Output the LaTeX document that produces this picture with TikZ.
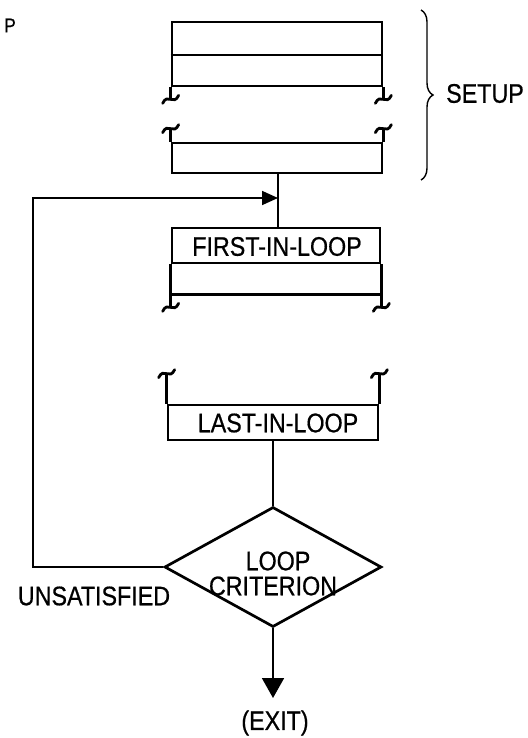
\documentclass[tikz,border=0pt]{standalone}
\usepackage{fontspec}
\usepackage{graphicx}
\setmainfont{Liberation Sans}
\newfontfamily\lblfont{Liberation Sans}[FakeBold=0.6]
\usetikzlibrary{shapes.geometric,arrows.meta,decorations.pathreplacing}
\newcommand\talltxt[1]{\scalebox{0.97}[1.12]{#1}}
\begin{document}
\begin{tikzpicture}[x=1pt,y=-1pt,
  thickline/.style={line width=2.7pt},
  conn/.style={line width=1.8pt},
  lbl/.style={font=\lblfont\fontsize{24}{26}\selectfont, inner sep=0pt},
  boxnode/.style={draw, line width=2.7pt, minimum width=210pt, minimum height=35pt, inner sep=0pt},
  squig/.pic={\draw[line width=2.8pt, line cap=round] (-8,4) .. controls (-3,-7) and (3,7) .. (8,-4);}]
\fill[white] (0,0) rectangle (527,738);
\useasboundingbox (0,0) rectangle (527,738);

% setup block
\node[boxnode, minimum height=64pt] (setupA) at (277,54) {};
\draw[thickline] (setupA.west |- 0,55) -- (setupA.east |- 0,55);
\draw[thickline] (setupA.south west) -- ++(0,12) pic{squig};
\draw[thickline] (setupA.south east) -- ++(0,12) pic{squig};
\node[boxnode, minimum height=30pt] (setupB) at (277,158) {};
\draw[thickline] (setupB.north west) -- ++(0,-13) pic{squig};
\draw[thickline] (setupB.north east) -- ++(0,-13) pic{squig};

% brace
\draw[line width=1.4pt, decorate, decoration={brace, amplitude=12pt}] (421,10) -- (421,180);
\node[lbl] (setup) at (485,93.5) {\talltxt{SETUP}};
\node[font=\lblfont\fontsize{18}{20}\selectfont, inner sep=0pt] (p) at (10,25.5) {\talltxt{P}};

% first in loop
\node[boxnode, minimum width=208pt] (first) at (276,245.5) {};
\node[lbl] (firstT) at (277,246.5) {\talltxt{FIRST-IN-LOOP}};
\draw[thickline] (first.south west) -- ++(0,30) coordinate (fL) -- (first.south east |- fL);
\draw[thickline] (first.south east) -- (first.south east |- fL);
\draw[thickline] (fL) -- ++(0,13) pic{squig};
\draw[thickline] (first.south east |- fL) -- ++(0,13) pic{squig};

% last in loop
\node[boxnode] (last) at (273,422.5) {};
\node[lbl] (lastT) at (278,423) {\talltxt{LAST-IN-LOOP}};
\draw[thickline] (last.north west) -- ++(0,-30) pic{squig};
\draw[thickline] (last.north east) -- ++(0,-30) pic{squig};

% decision
\node[draw, diamond, line width=2.7pt, minimum width=217pt, minimum height=120pt, inner sep=0pt, aspect=1.8] (crit) at (273,567) {};
\node[lbl] (critA) at (278,561) {\talltxt{LOOP}};
\node[lbl] (critB) at (273,586) {\talltxt{CRITERION}};
\node[lbl] (unsat) at (94,596) {\talltxt{UNSATISFIED}};

% connectors
\coordinate (join) at (278,198);
\draw[conn] (setupB.south -| join) -- (first.north -| join);
\draw[conn] (last.south) -- (crit.north);
\draw[conn, -{Triangle[length=16pt,width=14pt]}] (crit.west) -- ++(-130,0) |- (join);
\coordinate (exittip) at (273,698);
\draw[conn, -{Triangle[length=20pt,width=22pt]}] (crit.south) -- (exittip);
\node[lbl] (exit) at (275,723) {\talltxt{(EXIT)}};
\end{tikzpicture}
\end{document}
